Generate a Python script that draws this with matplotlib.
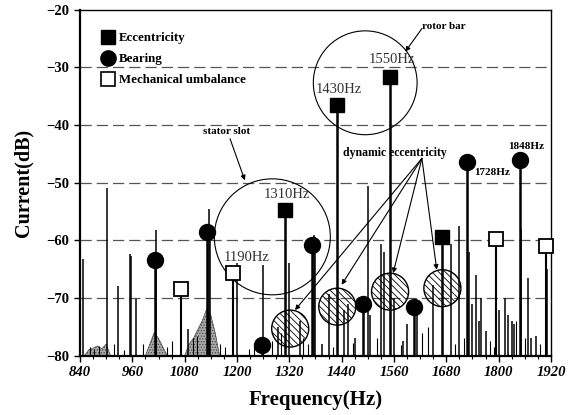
import numpy as np
import matplotlib
matplotlib.use("Agg")
import matplotlib.pyplot as plt
from matplotlib.patches import Ellipse
from matplotlib.lines import Line2D

plt.rcParams['font.family'] = ['Liberation Serif', 'DejaVu Serif']
plt.rcParams['hatch.linewidth'] = 0.6

# fault frequency markers (Hz, dB)
ecc_freq = [1310, 1430, 1550, 1670]
ecc_db = [-54.7, -36.6, -31.7, -59.5]

bearing_freq = [1012, 1132, 1257, 1371, 1489, 1606, 1728, 1848]
bearing_db = [-63.4, -58.6, -78.1, -60.9, -71.1, -71.5, -46.5, -46.1]

unbal_freq = [1072, 1190, 1794, 1908]
unbal_db = [-68.5, -65.7, -59.8, -61.0]

# remaining spectral lines
line_freq = [846, 901, 928, 955, 958, 968, 1015, 1087, 1135, 1139, 1201,
             1259, 1294, 1320, 1345, 1376, 1380, 1395, 1412, 1445, 1455,
             1470, 1500, 1505, 1531, 1538, 1560, 1580, 1590, 1612, 1649,
             1691, 1710, 1731, 1740, 1747, 1755, 1760, 1772, 1800, 1815,
             1822, 1830, 1835, 1852, 1867, 1875, 1885, 1912]
line_db = [-63.2, -51.0, -67.9, -62.3, -62.8, -70.2, -58.2, -75.3, -54.5,
           -60.0, -63.9, -64.2, -75.0, -64.0, -74.0, -59.0, -59.5, -78.0,
           -69.3, -72.0, -71.0, -77.0, -50.6, -73.0, -60.6, -62.0, -70.0,
           -77.5, -74.5, -72.5, -67.7, -60.6, -57.6, -62.0, -71.0, -66.0,
           -74.0, -70.0, -75.8, -72.0, -70.0, -73.0, -74.0, -74.5, -58.0,
           -66.6, -77.0, -76.5, -65.0]

# small noise lines near the floor
floor_freq = [862, 872, 884, 918, 940, 985, 1040, 1052, 1100, 1108, 1160,
              1172, 1228, 1240, 1280, 1300, 1352, 1362, 1420, 1465, 1520,
              1575, 1625, 1638, 1700, 1720, 1780, 1790, 1840, 1860, 1895]
floor_db = [-78.5, -78.8, -78.4, -78.0, -79.0, -78.0, -78.5, -77.5, -77.0,
            -76.5, -78.0, -78.5, -78.8, -78.0, -77.5, -76.0, -77.0, -78.0,
            -78.5, -77.8, -77.0, -78.2, -76.0, -75.0, -78.0, -77.0, -77.5,
            -78.5, -74.0, -77.0, -78.0]

# broadband humps
hump1_f = [850, 860, 870, 880, 890, 900, 910]
hump1_db = [-80, -79.0, -78.7, -78.3, -78.8, -78.0, -80]
hump2_f = [990, 1000, 1010, 1020, 1030, 1040]
hump2_db = [-80, -78.0, -76.0, -77.0, -78.5, -80]
hump3_f = [1080, 1090, 1100, 1110, 1120, 1130, 1140, 1150, 1160]
hump3_db = [-80, -78.0, -77.0, -75.5, -74.0, -72.0, -73.0, -76.0, -80]

# frequency labels
hz_labels = ['1190Hz', '1310Hz', '1430Hz', '1550Hz']
hz_label_f = [1223, 1315, 1434, 1556]
hz_label_db = [-62.9, -52.1, -33.8, -28.75]

# dynamic eccentricity circles (centre Hz, dB)
dyn_f = [1322, 1430, 1551, 1671]
dyn_db = [-75.3, -71.5, -68.9, -68.3]
dyn_tips = [(1333, -72.1), (1440, -67.7), (1558, -65.7), (1658, -65.1)]

fig = plt.figure(figsize=(5.79, 4.15), dpi=100)
ax = fig.add_axes([0.1382, 0.1429, 0.8134, 0.8342])

ax.set_xlim(840, 1920)
ax.set_ylim(-80, -20)

for y in [-30, -40, -50, -60, -70]:
    ax.axhline(y, color='#555555', lw=0.9, ls=(0, (9, 4)), zorder=0)

for hf, hd in [(hump1_f, hump1_db), (hump2_f, hump2_db), (hump3_f, hump3_db)]:
    ax.fill_between(hf, -80, hd, facecolor='#aaaaaa', edgecolor='#444444',
                    hatch='......', lw=0.5, zorder=1)

ax.vlines(floor_freq, -80, floor_db, color='k', lw=0.8, zorder=2)
ax.vlines(line_freq, -80, line_db, color='k', lw=1.1, zorder=2)
ax.vlines(ecc_freq, -80, ecc_db, color='k', lw=1.8, zorder=2)
ax.vlines(bearing_freq, -80, bearing_db, color='k', lw=1.8, zorder=2)
ax.vlines(unbal_freq, -80, unbal_db, color='k', lw=1.5, zorder=2)

ax.plot(ecc_freq, ecc_db, 's', color='k', ms=9.5, zorder=5, clip_on=False)
ax.plot(bearing_freq, bearing_db, 'o', color='k', ms=11.5, zorder=5,
        clip_on=False)
ax.plot(unbal_freq, unbal_db, 's', mfc='white', mec='k', mew=1.3, ms=9.5,
        zorder=5, clip_on=False)

# hatched circles for dynamic eccentricity
for f, d in zip(dyn_f, dyn_db):
    ax.add_patch(Ellipse((f, d), 85, 6.4, facecolor='none', edgecolor='k',
                         hatch='\\\\\\\\\\', lw=1.0, zorder=4))

# stator slot and rotor bar regions
ax.add_patch(Ellipse((1281, -59.4), 266, 20.1, fill=False, ec='k', lw=0.8,
                     zorder=3))
ax.add_patch(Ellipse((1494, -32.7), 238, 18.0, fill=False, ec='k', lw=0.8,
                     zorder=3))

for lab, f, d in zip(hz_labels, hz_label_f, hz_label_db):
    ax.text(f, d, lab, ha='center', va='center', fontsize=10.5,
            color='#333333', zorder=6)
ax.text(1785, -48.2, '1728Hz', ha='center', va='center', fontsize=8,
        fontweight='bold', zorder=6)
ax.text(1863, -43.7, '1848Hz', ha='center', va='center', fontsize=8,
        fontweight='bold', zorder=6)

arrow = dict(arrowstyle='-|>', color='k', lw=0.8, mutation_scale=7,
             shrinkA=0, shrinkB=0)
ax.text(1177, -41.1, 'stator slot', ha='center', va='center', fontsize=8,
        fontweight='bold', zorder=6)
ax.annotate('', xy=(1218, -49.6), xytext=(1184, -42.4), arrowprops=arrow)
ax.text(1675, -23.0, 'rotor bar', ha='center', va='center', fontsize=8,
        fontweight='bold', zorder=6)
ax.annotate('', xy=(1586, -27.3), xytext=(1624, -23.3), arrowprops=arrow)
ax.text(1563, -44.9, 'dynamic eccentricity', ha='center', va='center',
        fontsize=8.5, fontweight='bold', zorder=6)
for tip in dyn_tips:
    ax.annotate('', xy=tip, xytext=(1624, -45.8), arrowprops=arrow)

ax.set_xticks(np.arange(840, 1921, 120))
ax.set_xticks(np.arange(840, 1921, 30), minor=True)
ax.set_yticks(np.arange(-80, -19, 10))
ax.tick_params(axis='both', which='major', direction='out', length=4,
               width=1.0, labelsize=10.5)
ax.tick_params(axis='x', which='minor', direction='out', length=2, width=0.8)
for t in ax.get_xticklabels():
    t.set_fontstyle('italic')
    t.set_fontweight('bold')
for t in ax.get_yticklabels():
    t.set_fontweight('bold')

for side in ['left', 'bottom']:
    ax.spines[side].set_linewidth(1.6)
for side in ['top', 'right']:
    ax.spines[side].set_linewidth(1.0)

ax.set_xlabel('Frequency(Hz)', fontsize=15, fontweight='bold', va='center')
ax.xaxis.set_label_coords(0.5, -0.128)
ax.set_ylabel('Current(dB)', fontsize=14.5, fontweight='bold', va='center')
ax.yaxis.set_label_coords(-0.121, 0.5)

handles = [
    Line2D([], [], ls='none', marker='s', color='k', ms=10),
    Line2D([], [], ls='none', marker='o', color='k', ms=11),
    Line2D([], [], ls='none', marker='s', mfc='white', mec='k', mew=1.2, ms=10),
]
ax.legend(handles, ['Eccentricity', 'Bearing', 'Mechanical umbalance'],
          loc='upper left', bbox_to_anchor=(0.033, 0.957), frameon=False,
          handlelength=0.8, handletextpad=0.4, labelspacing=0.7,
          borderaxespad=0.2, prop={'size': 9.3, 'weight': 'bold'})

fig.savefig('out.png', dpi=100)
